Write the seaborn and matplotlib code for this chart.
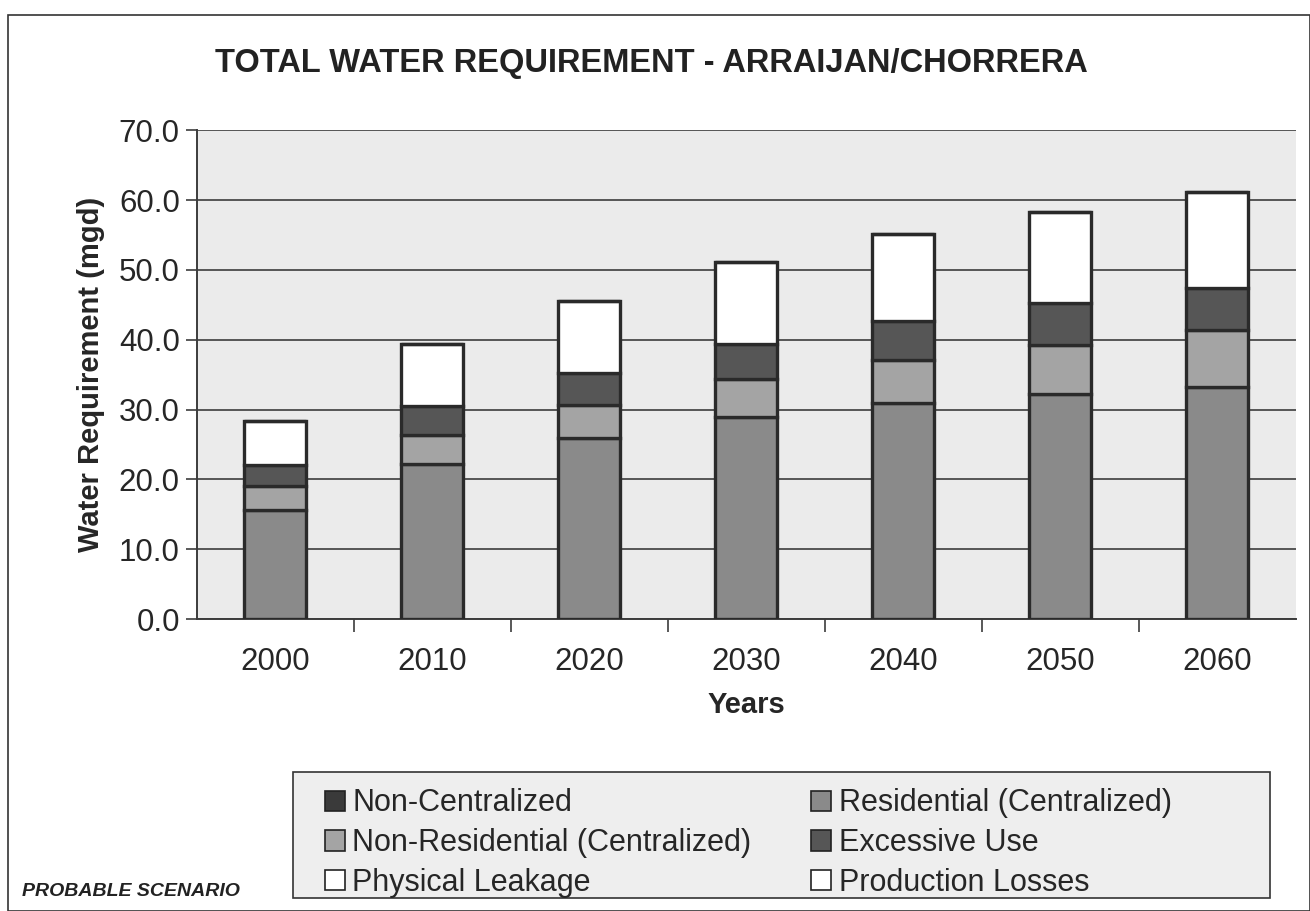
import matplotlib
matplotlib.use("Agg")
import matplotlib.pyplot as plt
import numpy as np
import pandas as pd
import seaborn as sns
from matplotlib.patches import Patch, Rectangle

years = ["2000", "2010", "2020", "2030", "2040", "2050", "2060"]
non_centralized = [0.0, 0.0, 0.0, 0.0, 0.0, 0.0, 0.0]
residential = [15.6, 22.2, 25.9, 28.9, 30.9, 32.2, 33.3]
non_residential = [3.4, 4.2, 4.8, 5.5, 6.2, 7.1, 8.1]
excessive_use = [3.0, 4.1, 4.6, 5.0, 5.6, 5.9, 6.0]
physical_leakage = [6.4, 8.9, 10.3, 11.7, 12.5, 13.1, 13.8]
production_losses = [0.0, 0.0, 0.0, 0.0, 0.0, 0.0, 0.0]

series = [
    ("Non-Centralized", non_centralized, "#3a3a3a"),
    ("Residential (Centralized)", residential, "#8a8a8a"),
    ("Non-Residential (Centralized)", non_residential, "#a4a4a4"),
    ("Excessive Use", excessive_use, "#565656"),
    ("Physical Leakage", physical_leakage, "#ffffff"),
    ("Production Losses", production_losses, "#ffffff"),
]

sns.set_style("white")
plt.rcParams["font.family"] = ["Liberation Sans", "DejaVu Sans"]

fig = plt.figure(figsize=(13.1, 9.11), dpi=100)
ax = fig.add_axes([0.150, 0.3205, 0.839, 0.5365])
ax.set_facecolor("#ebebeb")

bottom = np.zeros(len(years))
for name, vals, color in series:
    df = pd.DataFrame({"year": years, "value": vals})
    sns.barplot(
        data=df, x="year", y="value", ax=ax, color=color, saturation=1,
        width=0.4, bottom=bottom, edgecolor="#2a2a2a", linewidth=2.4, zorder=3,
    )
    bottom = bottom + np.array(vals)

ax.set_ylim(0, 70)
ax.set_xlim(-0.5, 6.5)
ax.set_yticks(np.arange(0, 71, 10))
ax.set_yticklabels([f"{v:.1f}" for v in np.arange(0, 71, 10)], fontsize=22.5)
ax.yaxis.grid(True, color="#3c3c3c", linewidth=1.2, zorder=1)
ax.set_axisbelow(True)
ax.tick_params(axis="y", length=8, width=1.2, color="#3c3c3c", pad=4, left=True)
ax.tick_params(axis="x", which="major", length=0, labelsize=22.5, pad=20)
ax.set_xticks(np.arange(0.5, 6, 1), minor=True)
ax.tick_params(axis="x", which="minor", length=9, width=1.2, color="#3c3c3c", bottom=True)
for side in ["top", "right"]:
    ax.spines[side].set_visible(False)
for side in ["left", "bottom"]:
    ax.spines[side].set_color("#3c3c3c")
    ax.spines[side].set_linewidth(1.4)

ax.set_xlabel("Years", fontsize=21, fontweight="bold", labelpad=10)
ax.set_ylabel("Water Requirement (mgd)", fontsize=21, fontweight="bold", labelpad=10)
fig.text(0.497, 0.930, "TOTAL WATER REQUIREMENT - ARRAIJAN/CHORRERA",
         ha="center", va="center", fontsize=23.5, fontweight="bold", color="#222222")

# legend box is wider than its entries, so draw the frame separately
fig.patches.append(Rectangle((0.2237, 0.0143), 0.7458, 0.1383, transform=fig.transFigure,
                             facecolor="#eeeeee", edgecolor="#333333", linewidth=1.2,
                             zorder=0))
order = [0, 2, 4, 1, 3, 5]
handles = [Patch(facecolor=series[i][2], edgecolor="#222222", linewidth=1.2) for i in order]
labels = [series[i][0] for i in order]
fig.legend(
    handles, labels, ncol=2, loc="upper left", bbox_to_anchor=(0.248, 0.1345),
    fontsize=22, frameon=False, handlelength=0.65, handleheight=0.65,
    handletextpad=0.25, columnspacing=1.95, labelspacing=0.32, borderpad=0.0,
    borderaxespad=0.0,
)

fig.text(0.017, 0.016, "PROBABLE SCENARIO", fontsize=14, fontweight="bold",
         fontstyle="italic", color="#222222")

fig.patches.append(Rectangle((0.006, 0.0), 0.994, 0.984, transform=fig.transFigure,
                             fill=False, edgecolor="#333333", linewidth=1.2))

fig.savefig("out.png", dpi=100)
